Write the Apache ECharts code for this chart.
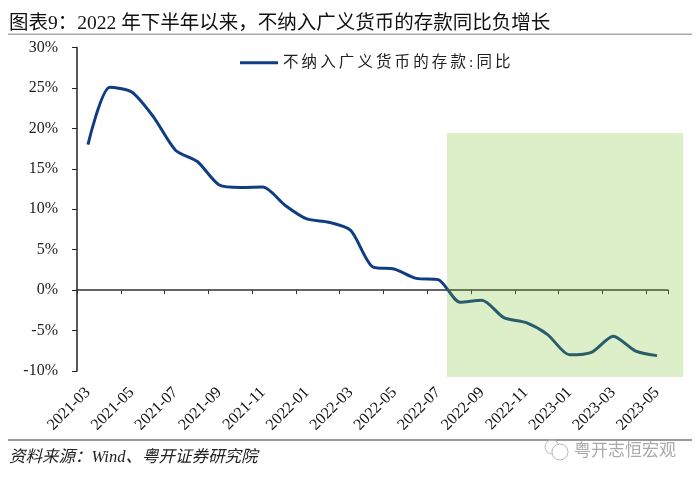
<!DOCTYPE html>
<html>
<head>
<meta charset="utf-8">
<style>
html,body{margin:0;padding:0;background:#fff;}
#chart{width:700px;height:481px;}
</style>
<script src="https://cdn.jsdelivr.net/npm/echarts@6/dist/echarts.min.js"></script>
</head>
<body>
<div id="chart"></div>
<script>
const seriesName = '不纳入广义货币的存款:同比';
const months = [
  '2021-03','2021-04','2021-05','2021-06','2021-07','2021-08','2021-09','2021-10','2021-11',
  '2021-12','2022-01','2022-02','2022-03','2022-04','2022-05','2022-06','2022-07','2022-08',
  '2022-09','2022-10','2022-11','2022-12','2023-01','2023-02','2023-03','2023-04','2023-05'
];
const yoy = [
  18.0,25.1,24.5,21.4,17.3,15.9,13.0,12.7,12.75,
  10.5,8.8,8.4,7.4,2.9,2.6,1.45,1.3,-1.5,
  -1.25,-3.4,-4.0,-5.5,-8.0,-7.7,-5.7,-7.5,-8.1
];
const titleText = '图表9\uFF1A2022 年下半年以来\uFF0C不纳入广义货币的存款同比负增长';
const sourceText = '资料来源\uFF1AWind、粤开证券研究院';
const watermarkText = '粤开志恒宏观';
const fontFamily = '"Liberation Serif","Noto Sans CJK SC",serif';

const chart = echarts.init(document.getElementById('chart'));
chart.setOption({
  animation: false,
  backgroundColor: '#fff',
  title: {
    text: titleText,
    left: 4, top: 9,
    textStyle: {fontFamily: fontFamily, fontSize: 19.5, fontWeight: 400, color: '#111'}
  },
  legend: {
    data: [seriesName],
    left: 235, top: 50,
    itemWidth: 38, itemHeight: 3, itemGap: 5,
    icon: 'rect',
    formatter: name => name.split('').join('\u2009'),
    textStyle: {fontFamily: fontFamily, fontSize: 15.5, color: '#222'}
  },
  grid: {left: 77, right: 32, top: 47.5, bottom: 110, outerBoundsMode: 'none'},
  xAxis: {
    type: 'category',
    data: months,
    boundaryGap: true,
    axisLine: {onZero: true, lineStyle: {color: '#333', width: 1.5}},
    axisTick: {show: true, interval: 1, length: 4, lineStyle: {color: '#333', width: 1}},
    axisLabel: {
      interval: 1, rotate: 45, margin: 19,
      fontFamily: fontFamily, fontSize: 16, color: '#111'
    }
  },
  yAxis: {
    type: 'value',
    min: -10, max: 30, interval: 5,
    splitLine: {show: false},
    axisLine: {show: true, onZero: false, lineStyle: {color: '#222', width: 1.5}},
    axisTick: {show: true, length: 5, lineStyle: {color: '#222', width: 1}},
    axisLabel: {formatter: '{value}%', margin: 19, fontFamily: fontFamily, fontSize: 16, color: '#222'}
  },
  series: [{
    name: seriesName,
    type: 'line',
    data: yoy,
    smooth: 0.25,
    symbol: 'none',
    itemStyle: {color: '#0f3d84'},
    lineStyle: {color: '#0f3d84', width: 3}
  }],
  graphic: [
    // green highlight, runs a bit past the plot like the pasted box in the source
    {type: 'rect', z: 100, shape: {x: 447, y: 133, width: 236, height: 244}, style: {fill: 'rgba(120,192,36,0.25)'}},
    {type: 'rect', shape: {x: 8, y: 33.5, width: 684, height: 1.5}, style: {fill: '#aaa'}},
    {type: 'rect', shape: {x: 8, y: 439, width: 684, height: 2}, style: {fill: '#999'}},
    {type: 'text', left: 9, top: 449, style: {
      text: sourceText, fill: '#222',
      font: 'italic 16.5px "Liberation Serif","Noto Sans CJK SC",serif'
    }},
    // wechat mark
    {type: 'circle', shape: {cx: 552, cy: 447, r: 7}, style: {fill: 'none', stroke: '#bbb', lineWidth: 1}},
    {type: 'circle', shape: {cx: 560, cy: 452, r: 8}, style: {fill: '#fff', stroke: '#bbb', lineWidth: 1}},
    {type: 'text', left: 574, top: 441, style: {
      text: watermarkText, fill: '#aaa',
      font: '17px "Noto Sans CJK SC",sans-serif'
    }}
  ]
});
</script>
</body>
</html>
